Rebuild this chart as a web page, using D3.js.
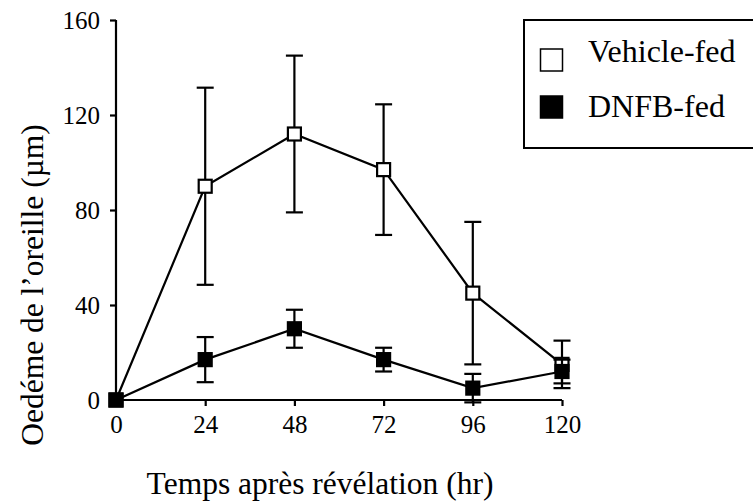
<!DOCTYPE html>
<html>
<head>
<meta charset="utf-8">
<script src="https://cdn.jsdelivr.net/npm/d3@7"></script>
<style>
  html, body { margin: 0; padding: 0; background: #fff; }
  svg { display: block; }
  svg text { font-family: "Liberation Serif", "Times New Roman", serif !important; fill: #000; }
</style>
</head>
<body>
<svg id="chart" width="753" height="504"></svg>
<script>
// ---- data ----
const hours = [0, 24, 48, 72, 96, 120];
const vehicleMean = [0, 90, 112, 97, 45, 15];
const vehicleErr  = [0, 41.5, 33, 27.5, 30, 10];
const dnfbMean = [0, 17, 30, 17, 5, 12];
const dnfbErr  = [0, 9.5, 8, 5, 6, 5];
const xTicks = [0, 24, 48, 72, 96, 120];
const yTicks = [0, 40, 80, 120, 160];
const seriesNames = ["Vehicle-fed", "DNFB-fed"];
const xTitle = "Temps après révélation (hr)";
const yTitle = "Oedéme de l\u2019oreille (\u00b5m)";

const FONT = "'Liberation Serif', 'Times New Roman', serif";
const svg = d3.select("#chart");
const x = d3.scaleLinear().domain([0, 120]).range([116, 562]);
const y = d3.scaleLinear().domain([0, 160]).range([400, 20]);

const series = [
  { name: seriesNames[0], mean: vehicleMean, err: vehicleErr, fill: "#fff" },
  { name: seriesNames[1], mean: dnfbMean, err: dnfbErr, fill: "#000" }
];

// axes
const xAxis = svg.append("g").attr("transform", `translate(0,${y(0)})`)
  .call(d3.axisBottom(x).tickValues(xTicks).tickSize(6).tickPadding(9).tickFormat(d3.format("d")));
const yAxis = svg.append("g").attr("transform", `translate(${x(0)},0)`)
  .call(d3.axisLeft(y).tickValues(yTicks).tickSize(6).tickPadding(10).tickFormat(d3.format("d")));
[xAxis, yAxis].forEach(g => {
  g.attr("font-family", FONT).attr("font-size", 25);
  g.select(".domain").attr("stroke", "#000").attr("stroke-width", 2.2);
  g.selectAll(".tick line").attr("stroke", "#000").attr("stroke-width", 2.2);
  g.selectAll(".tick text").attr("font-family", FONT).attr("font-size", 25)
   .style("font-size", "25px");
});
xAxis.select(".domain").attr("d", `M${x(0)},0H${x(120)}`);
yAxis.select(".domain").attr("d", `M0,${y(160)}V${y(0)}`);

// series
const line = d3.line().x((d, i) => x(hours[i])).y(d => y(d));
const capW = 17, mk = 13;
series.forEach(s => {
  const g = svg.append("g");
  hours.forEach((h, i) => {
    if (!s.err[i]) return;
    const cx = x(h), hi = y(s.mean[i] + s.err[i]), lo = y(s.mean[i] - s.err[i]);
    g.append("line").attr("x1", cx).attr("x2", cx).attr("y1", hi).attr("y2", lo)
      .attr("stroke", "#000").attr("stroke-width", 2.2);
    [hi, lo].forEach(yy => g.append("line").attr("x1", cx - capW / 2).attr("x2", cx + capW / 2)
      .attr("y1", yy).attr("y2", yy).attr("stroke", "#000").attr("stroke-width", 2.2));
  });
  g.append("path").datum(s.mean).attr("d", line).attr("fill", "none")
    .attr("stroke", "#000").attr("stroke-width", 2.2);
  g.selectAll("rect.m").data(s.mean).join("rect").attr("class", "m")
    .attr("x", (d, i) => x(hours[i]) - mk / 2).attr("y", d => y(d) - mk / 2)
    .attr("width", mk).attr("height", mk)
    .attr("fill", s.fill).attr("stroke", "#000").attr("stroke-width", 2.2);
});

// titles
svg.append("text").attr("x", 320).attr("y", 494).attr("text-anchor", "middle")
  .style("font-size", "31.5px").text(xTitle);
svg.append("text").attr("transform", "translate(43,285) rotate(-90)")
  .attr("text-anchor", "middle").style("font-size", "31.5px").text(yTitle);

// legend
svg.append("rect").attr("x", 524).attr("y", 20).attr("width", 240).attr("height", 128)
  .attr("fill", "#fff").attr("stroke", "#000").attr("stroke-width", 2);
const legY = [60, 107];
series.forEach((s, i) => {
  svg.append("rect").attr("x", 540.5).attr("y", legY[i] - 11).attr("width", 22).attr("height", 22)
    .attr("fill", s.fill).attr("stroke", "#000").attr("stroke-width", 1.5);
  svg.append("text").attr("x", 588).attr("y", legY[i] + (i === 0 ? 2 : 10))
    .style("font-size", "32px").text(s.name);
});
</script>
</body>
</html>
